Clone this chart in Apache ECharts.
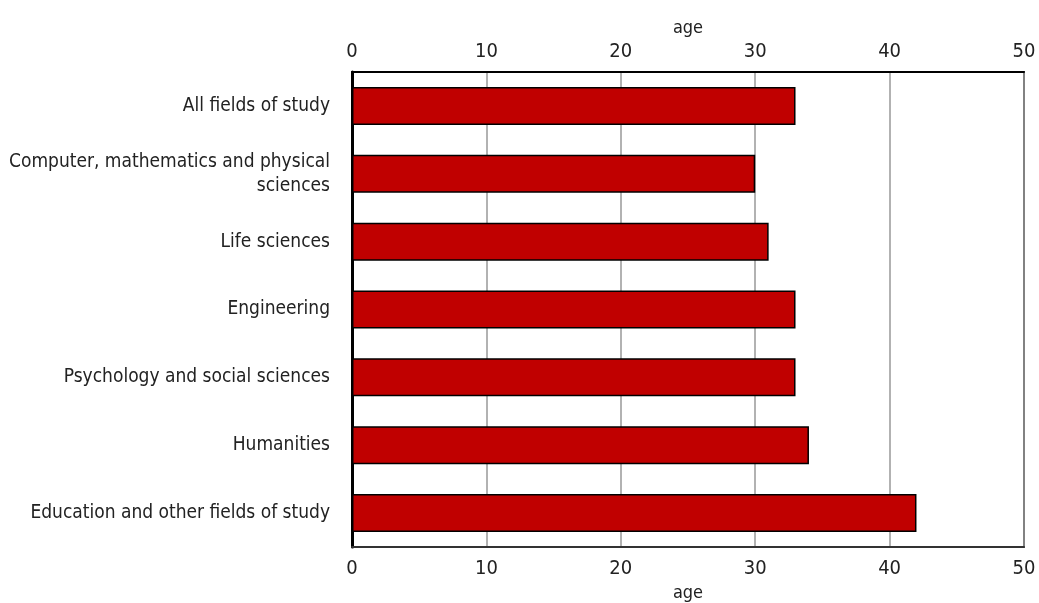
<!DOCTYPE html>
<html>
<head>
<meta charset="utf-8">
<script src="https://cdn.jsdelivr.net/npm/echarts@6/dist/echarts.min.js"></script>
<style>
  html, body { margin: 0; padding: 0; background: #fff; }
  #chart { width: 1039px; height: 603px; }
</style>
</head>
<body>
<div id="chart"></div>
<script>
// fields of study, top to bottom
const fields = [
  'All fields of study',
  'Computer, mathematics and physical\nsciences',
  'Life sciences',
  'Engineering',
  'Psychology and social sciences',
  'Humanities',
  'Education and other fields of study'
];
// age values
const ages = [33, 30, 31, 33, 33, 34, 42];

const FONT = "'Liberation Sans Narrow', 'DejaVu Sans Condensed', 'Roboto', sans-serif";

const valueAxis = (pos, nameGap, labelMargin) => ({
  type: 'value',
  position: pos,
  min: 0,
  max: 50,
  interval: 10,
  name: 'age',
  nameLocation: 'middle',
  nameGap: nameGap,
  nameTextStyle: { color: '#222', fontSize: 18, fontFamily: FONT },
  axisLine: { show: true, lineStyle: { color: pos === 'bottom' ? '#333' : '#000', width: 2 } },
  axisTick: { show: false },
  axisLabel: { color: '#222', fontSize: 20, fontFamily: FONT, margin: labelMargin },
  splitLine: { show: pos === 'bottom', lineStyle: { color: '#999', width: 1.5 } }
});

const chart = echarts.init(document.getElementById('chart'));
chart.setOption({
  animation: false,
  grid: {
    left: 352, right: 15, top: 72, bottom: 56,
    outerBoundsMode: 'none',
    show: true, borderColor: '#000', borderWidth: 1.5, backgroundColor: 'transparent'
  },
  xAxis: [valueAxis('bottom', 37, 12), valueAxis('top', 35, 10)],
  yAxis: {
    type: 'category',
    data: fields,
    inverse: true,
    axisLine: { show: true, lineStyle: { color: '#000', width: 3 } },
    axisTick: { show: false },
    axisLabel: {
      color: '#222', fontSize: 19, fontFamily: FONT, margin: 22,
      lineHeight: 24, align: 'right'
    }
  },
  series: [{
    type: 'bar',
    data: ages,
    barWidth: '56%',
    itemStyle: { color: '#C00000', borderColor: '#000', borderWidth: 1.5 }
  }]
});
</script>
</body>
</html>
